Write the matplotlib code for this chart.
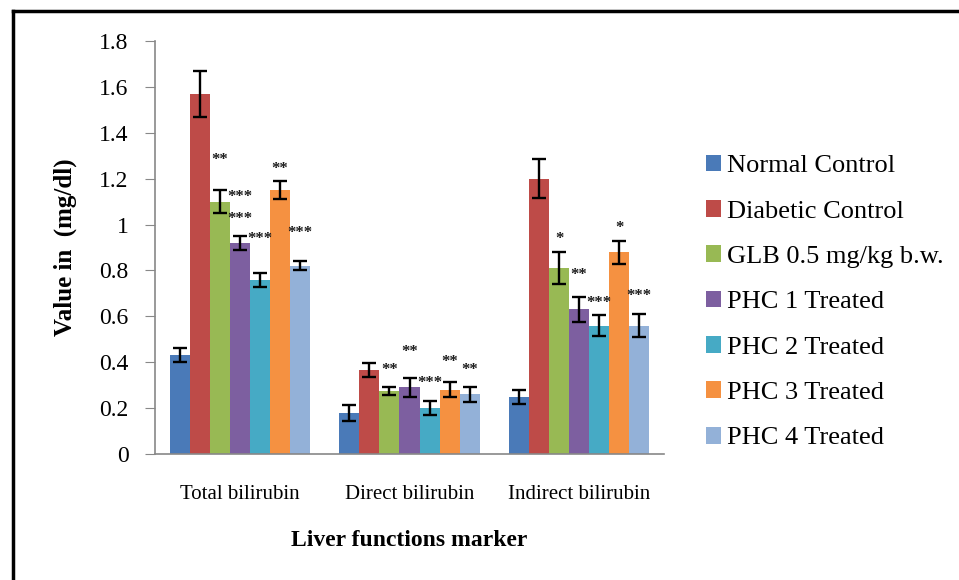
import matplotlib.pyplot as plt
import numpy as np
from matplotlib import patches
from matplotlib.lines import Line2D

plt.rcParams["font.family"] = ["Liberation Serif", "DejaVu Serif"]

markers = ["Total bilirubin", "Direct bilirubin", "Indirect bilirubin"]
groups = [
    "Normal Control",
    "Diabetic Control",
    "GLB 0.5 mg/kg b.w.",
    "PHC 1 Treated",
    "PHC 2 Treated",
    "PHC 3 Treated",
    "PHC 4 Treated",
]
colors = ["#4A7AB8", "#BE4B48", "#98B954", "#7D5FA0", "#46AAC5", "#F59141", "#93B1D8"]

# mean values per group: [total, direct, indirect]
normal_control = [0.43, 0.18, 0.25]
diabetic_control = [1.57, 0.365, 1.20]
glb = [1.10, 0.275, 0.81]
phc1 = [0.92, 0.29, 0.63]
phc2 = [0.76, 0.20, 0.56]
phc3 = [1.15, 0.28, 0.88]
phc4 = [0.82, 0.26, 0.56]

normal_control_err = [0.03, 0.035, 0.03]
diabetic_control_err = [0.10, 0.03, 0.085]
glb_err = [0.05, 0.018, 0.07]
phc1_err = [0.03, 0.04, 0.055]
phc2_err = [0.03, 0.03, 0.045]
phc3_err = [0.04, 0.033, 0.05]
phc4_err = [0.02, 0.034, 0.05]

values = [normal_control, diabetic_control, glb, phc1, phc2, phc3, phc4]
errors = [normal_control_err, diabetic_control_err, glb_err, phc1_err,
          phc2_err, phc3_err, phc4_err]

# significance marks: (marker index, group index, label, y)
sig_marks = [
    (0, 2, "**", 1.283), (0, 3, "***", 1.122), (0, 3, "***", 1.026),
    (0, 4, "***", 0.935), (0, 5, "**", 1.243), (0, 6, "***", 0.965),
    (1, 2, "**", 0.365), (1, 3, "**", 0.443), (1, 4, "***", 0.309),
    (1, 5, "**", 0.40), (1, 6, "**", 0.365),
    (2, 2, "*", 0.939), (2, 3, "**", 0.778), (2, 4, "***", 0.657),
    (2, 5, "*", 0.983), (2, 6, "***", 0.687),
]

fig = plt.figure(figsize=(9.59, 5.80), dpi=100)
ax = fig.add_axes([155 / 959, 1 - 454 / 580, 509 / 959, 413 / 580])

x = np.arange(len(markers))
width = 0.118
offsets = (np.arange(len(groups)) - 3) * width

for i, g in enumerate(groups):
    ax.bar(x + offsets[i], values[i], width, color=colors[i], label=g,
           yerr=errors[i], error_kw=dict(ecolor="black", elinewidth=1.7,
                                         capsize=5, capthick=1.7))

for m, g, lab, yv in sig_marks:
    ax.text(x[m] + offsets[g], yv, lab, ha="center", va="center",
            fontsize=12, fontweight="bold", color="#1a1a1a")

ax.set_xlim(-0.5, 2.5)
ax.set_ylim(0, 1.8)
ax.set_yticks(np.arange(0, 1.81, 0.2))
ax.set_yticklabels(["0"] + [f"{v:g}" for v in np.arange(0.2, 1.81, 0.2)])
ax.set_xticks(x)
ax.set_xticklabels(markers, fontsize=15)
ax.tick_params(axis="x", length=0, pad=22)
ax.tick_params(axis="y", labelsize=17, length=7, color="#888888", pad=12)
for s in ["top", "right"]:
    ax.spines[s].set_visible(False)
for s in ["left", "bottom"]:
    ax.spines[s].set_color("#888888")
    ax.spines[s].set_linewidth(1.2)

ax.set_ylabel("Value in  (mg/dl)", fontsize=18, fontweight="bold", labelpad=16)
ax.set_xlabel("Liver functions marker", fontsize=17, fontweight="bold", labelpad=19)

handles = [patches.Patch(facecolor=c, label=g) for c, g in zip(colors, groups)]
fig.legend(handles=handles, loc="upper left", bbox_to_anchor=(695 / 959, 1 - 144 / 580),
           frameon=False, fontsize=19, handlelength=0.6, handleheight=0.6,
           handletextpad=0.2, labelspacing=0.86, borderaxespad=0)

fig.add_artist(Line2D([13 / 959, 13 / 959], [0, 1 - 11 / 580], color="black", lw=2.5))
fig.add_artist(Line2D([13 / 959, 1], [1 - 11 / 580, 1 - 11 / 580], color="black", lw=2.5))

fig.savefig("out.png", dpi=100)
